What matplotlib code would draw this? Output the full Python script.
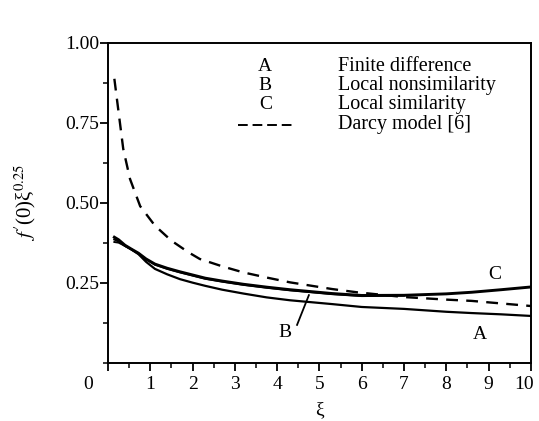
import matplotlib
matplotlib.use("Agg")
import matplotlib.pyplot as plt
from matplotlib.ticker import MultipleLocator
from matplotlib.transforms import ScaledTranslation

plt.rcParams['font.family'] = ['Liberation Serif', 'DejaVu Serif']
plt.rcParams['mathtext.fontset'] = 'stix'

xi = [0.15, 0.25, 0.4, 0.55, 0.72, 0.9, 1.11, 1.4, 1.7, 2.0, 2.3, 2.7, 3.2,
      3.75, 4.3, 5.3, 6.0, 7.0, 8.0, 8.6, 9.3, 10]
curve_A = [0.386, 0.380, 0.366, 0.355, 0.340, 0.316, 0.294, 0.277, 0.262, 0.251,
           0.241, 0.229, 0.217, 0.205, 0.196, 0.184, 0.175, 0.169, 0.160, 0.156,
           0.152, 0.147]
curve_C = [0.393, 0.385, 0.368, 0.356, 0.343, 0.325, 0.309, 0.296, 0.285, 0.275,
           0.265, 0.256, 0.246, 0.237, 0.229, 0.217, 0.211, 0.2115, 0.216, 0.221,
           0.229, 0.2375]
xi_B = [0.15, 0.25, 0.4, 0.55, 0.72, 0.9, 1.11, 1.4, 1.7, 2.0, 2.3, 2.7, 3.2,
        3.75, 4.3, 5.3, 6.0, 7.0]
curve_B = [0.378, 0.376, 0.366, 0.355, 0.342, 0.324, 0.307, 0.294, 0.283, 0.273,
           0.263, 0.254, 0.244, 0.235, 0.227, 0.215, 0.209, 0.2105]
xi_D = [0.15, 0.24, 0.36, 0.52, 0.76, 1.11, 1.5, 1.9, 2.17, 2.7, 3.2, 3.75, 4.3,
        5.3, 5.88, 7, 8, 8.6, 9.3, 10]
darcy = [0.888, 0.794, 0.669, 0.575, 0.49, 0.429, 0.382, 0.346, 0.325, 0.302,
         0.283, 0.267, 0.252, 0.231, 0.221, 0.206, 0.198, 0.194, 0.186, 0.178]

legend_keys = ['A', 'B', 'C']
legend_texts = ['Finite difference', 'Local nonsimilarity', 'Local similarity', 'Darcy model [6]']
x_ticks = [1, 2, 3, 4, 5, 6, 7, 8, 9, 10]
y_ticks = [0.25, 0.50, 0.75, 1.00]

fig = plt.figure(figsize=(5.39, 4.21), dpi=100)
ax = fig.add_axes([0.2004, 0.1378, 0.7846, 0.7602])

ax.plot(xi, curve_A, color='black', lw=1.6)
ax.plot(xi, curve_C, color='black', lw=2.1)
ax.plot(xi_B, curve_B, color='black', lw=1.4)
ax.plot(xi_D, darcy, color='black', lw=1.7, dashes=(5, 3.5))

ax.set_xlim(0, 10)
ax.set_ylim(0, 1.0)
ax.set_xticks([0] + x_ticks)
ax.set_xticklabels([''] + [str(v) for v in x_ticks])
ax.xaxis.set_minor_locator(MultipleLocator(0.5))
ax.set_yticks(y_ticks)
ax.set_yticklabels(['%.2f' % v for v in y_ticks])
ax.yaxis.set_minor_locator(MultipleLocator(0.125))
ax.tick_params(which='major', direction='out', length=5.5, width=1.3, labelsize=14)
ax.tick_params(axis='y', which='major', pad=1)
ax.tick_params(axis='x', which='major', pad=4)
ax.tick_params(which='minor', direction='out', length=3.5, width=1.1)
for s in ax.spines.values():
    s.set_linewidth(1.4)

# shift the last x tick label slightly left so it stays inside the figure
last = ax.get_xticklabels()[-1]
last.set_transform(last.get_transform() + ScaledTranslation(-7 / 100, 0, fig.dpi_scale_trans))

ax.text(-0.47, -0.068, '0', ha='center', va='center', fontsize=14)

ax.set_xlabel('ξ', fontsize=14, labelpad=6)
ax.set_ylabel(r"$f'$(0)ξ$^{0.25}$", fontsize=15)
ax.yaxis.set_label_coords(-0.165, 0.5)

# legend-like text block
ys = [0.925, 0.866, 0.807]
for k, y in zip(legend_keys, ys):
    ax.text(3.72, y, k, ha='center', va='center', fontsize=14)
for t, y in zip(legend_texts, ys + [0.745]):
    ax.text(5.43, y, t, ha='left', va='center', fontsize=14.5)
ax.plot([3.07, 4.35], [0.745, 0.745], color='black', lw=1.4, dashes=(5, 2.5))

# curve labels
ax.text(9.15, 0.275, 'C', ha='center', va='center', fontsize=14)
ax.text(8.8, 0.088, 'A', ha='center', va='center', fontsize=14)
ax.text(4.18, 0.094, 'B', ha='center', va='center', fontsize=14)
ax.plot([4.47, 4.75], [0.119, 0.212], color='black', lw=1.3)

fig.savefig('out.png', dpi=100)
